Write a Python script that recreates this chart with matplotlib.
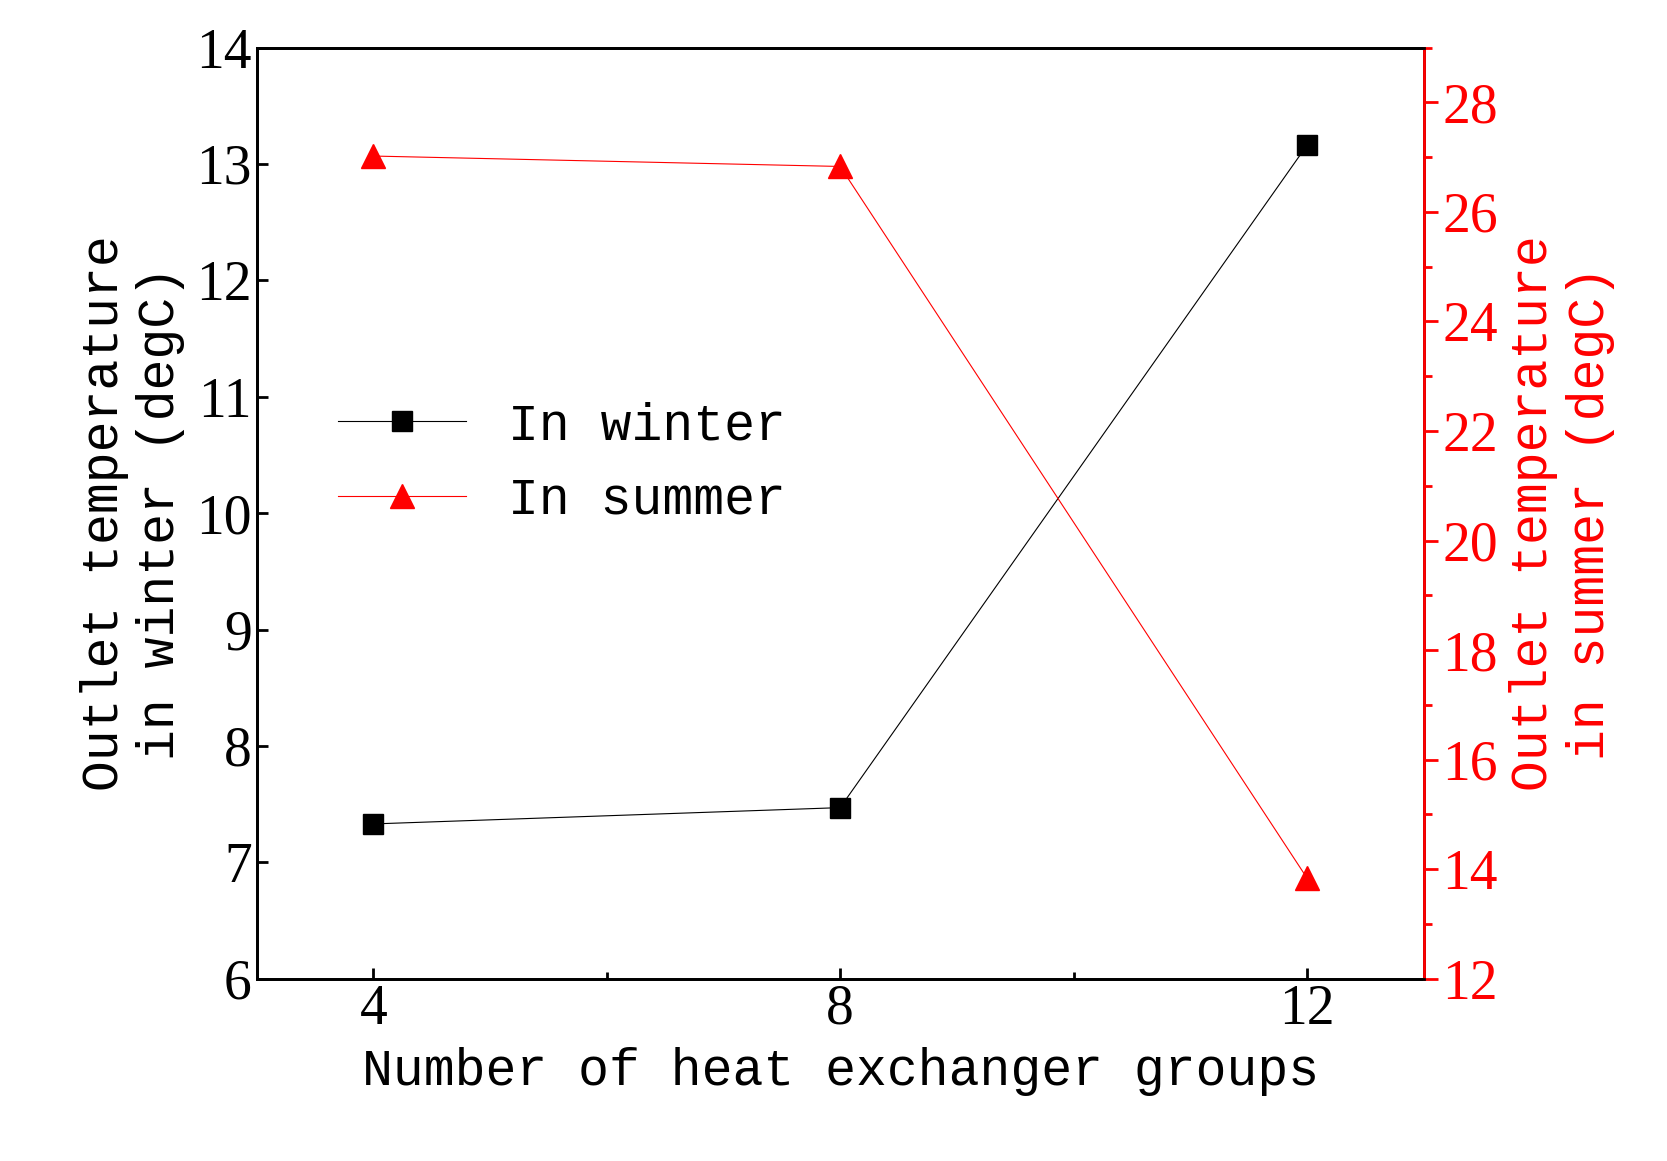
import matplotlib
matplotlib.use("Agg")
import matplotlib.pyplot as plt
from matplotlib.ticker import MultipleLocator

groups = [4, 8, 12]
winter = [7.33, 7.47, 13.16]
summer = [27.02, 26.83, 13.84]

fig = plt.figure(figsize=(16.67, 11.61), dpi=100)
ax = fig.add_axes([0.154, 0.157, 0.700, 0.802])
ax2 = ax.twinx()
serif = "Liberation Serif"
mono = "Liberation Mono"

l1, = ax.plot(groups, winter, color="black", lw=0.8, marker="s", ms=15, label="In winter")
l2, = ax2.plot(groups, summer, color="red", lw=0.8, marker="^", ms=17, label="In summer")

ax.set_xlim(3, 13)
ax.set_ylim(6, 14)
ax2.set_ylim(12, 29)
ax.set_xticks(groups)
ax.xaxis.set_minor_locator(MultipleLocator(2))
ax.yaxis.set_major_locator(MultipleLocator(1))
ax2.yaxis.set_major_locator(MultipleLocator(2))
ax2.yaxis.set_minor_locator(MultipleLocator(1))

ax.tick_params(which="both", direction="in", labelsize=40, width=2, top=False)
ax.tick_params(which="major", length=8)
ax.tick_params(which="minor", length=5)
ax2.tick_params(which="both", direction="out", colors="red", labelsize=40, width=2)
ax2.tick_params(which="major", length=10)
ax2.tick_params(which="minor", length=6)
for a in (ax, ax2):
    for t in a.get_xticklabels() + a.get_yticklabels():
        t.set_fontfamily(serif)
for s in ax.spines.values():
    s.set_linewidth(2)
for s in ax2.spines.values():
    s.set_linewidth(2)
ax2.spines["right"].set_color("red")

ax.set_xlabel("Number of heat exchanger groups", fontsize=37, fontfamily=mono, labelpad=8)
ax.set_ylabel("Outlet temperature\nin winter (degC)", fontsize=37, fontfamily=mono, labelpad=8)
ax2.set_ylabel("Outlet temperature\nin summer (degC)", fontsize=37, fontfamily=mono, color="red", labelpad=8)

ax.legend(handles=[l1, l2], loc="upper left", bbox_to_anchor=(0.03, 0.67), frameon=False,
          prop={"family": mono, "size": 37}, handlelength=2.5)
fig.savefig("out.png", dpi=100)
